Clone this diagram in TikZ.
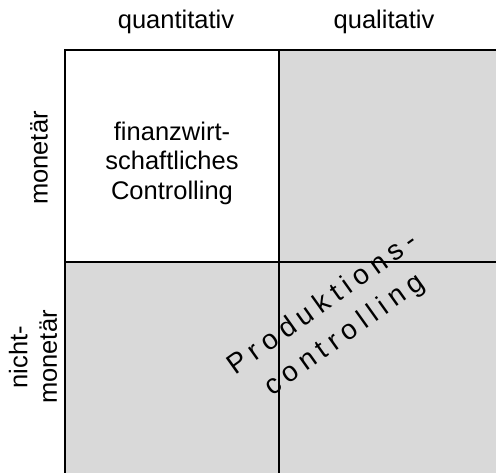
\documentclass[tikz,border=0pt]{standalone}
\usepackage{fontspec}
\setmainfont{Liberation Sans}
\newfontfamily\spacedfont[LetterSpace=22]{Liberation Sans}
\usetikzlibrary{positioning}
\definecolor{cellgray}{HTML}{D9D9D9}
\tikzset{
	cell/.style = {
			draw=black,
			line width=1.5pt,
			inner sep=0pt,
			outer sep=0pt,
		},
	whitecell/.style = {cell, fill=white, minimum width=214pt, minimum height=212pt},
	graycell/.style = {cell, fill=cellgray, minimum width=#1, minimum height=#1},
	graycell/.default = 214pt,
}

\begin{document}
\begin{tikzpicture}[x=1pt,y=-1pt,font=\fontsize{25.5}{29.5}\selectfont]
		\useasboundingbox (0,0) rectangle (496,472);
		\clip (0,0) rectangle (496,472);

		\node[whitecell, anchor=north west] at (65,50) (fin) {};
		\node[graycell, minimum width=240pt, minimum height=212pt, right=0pt of fin] (qualmon) {};
		\node[graycell, minimum width=214pt, minimum height=240pt, below=0pt of fin] (quantnmon) {};
		\node[graycell=240pt, right=0pt of quantnmon] (qualnmon) {};

		\node[align=center] at (172,163) (fintext) {finanzwirt-\\schaftliches\\Controlling};

		\node at (176,22) (quant) {quantitativ};
		\node at (384,22) (qual) {qualitativ};

		\node[rotate=90] at (39,158) (mon) {monet\"ar};
		\node[rotate=90, align=center] at (33,357) (nmon) {nicht-\\monet\"ar};

		\node[rotate=35.5, align=center, font={\spacedfont\fontsize{28}{37.5}\selectfont}] at (334,320) (prod) {Produktions-\\controlling};
	\end{tikzpicture}
\end{document}
